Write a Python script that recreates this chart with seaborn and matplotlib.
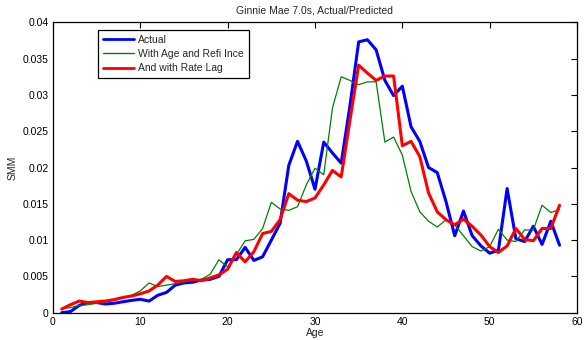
import numpy as np
import pandas as pd
import matplotlib
matplotlib.use("Agg")
import matplotlib.pyplot as plt
import seaborn as sns

age = list(range(1, 59))
actual = [0.0, 0.00015, 0.001, 0.0014, 0.0014, 0.0012, 0.0013, 0.0015, 0.0017, 0.00185,
          0.0016, 0.0024, 0.0028, 0.0038, 0.0041, 0.0042, 0.0045, 0.0046, 0.005, 0.0073,
          0.0073, 0.009, 0.0072, 0.0077, 0.01, 0.0123, 0.0203, 0.0236, 0.0209, 0.017,
          0.0235, 0.022, 0.0206, 0.0285, 0.0373, 0.0376, 0.0362, 0.032, 0.0299, 0.0312,
          0.0256, 0.0236, 0.02, 0.0193, 0.0153, 0.0106, 0.014, 0.0106, 0.0092, 0.0082,
          0.0086, 0.0171, 0.0102, 0.0098, 0.0119, 0.0094, 0.0126, 0.0093]
with_refi = [0.00055, 0.0007, 0.001, 0.0011, 0.0013, 0.0015, 0.0017, 0.002, 0.0024, 0.003,
             0.0041, 0.0036, 0.0038, 0.004, 0.0042, 0.0045, 0.0046, 0.0053, 0.0073, 0.0063,
             0.008, 0.0099, 0.0101, 0.0116, 0.0152, 0.0143, 0.0141, 0.0146, 0.0176, 0.0199,
             0.019, 0.0282, 0.0325, 0.032, 0.0314, 0.0318, 0.0318, 0.0235, 0.0242, 0.0217,
             0.0167, 0.0139, 0.0126, 0.0118, 0.0128, 0.0121, 0.0106, 0.0091, 0.0085, 0.0091,
             0.0115, 0.01, 0.0098, 0.0114, 0.0114, 0.0148, 0.0138, 0.0142]
rate_lag = [0.0005, 0.0011, 0.0016, 0.0014, 0.0015, 0.0016, 0.0018, 0.0021, 0.0023, 0.0026,
            0.003, 0.0038, 0.005, 0.0043, 0.0044, 0.0046, 0.0044, 0.0048, 0.0052, 0.006,
            0.0083, 0.007, 0.0084, 0.0109, 0.0112, 0.0128, 0.0164, 0.0155, 0.0153, 0.0158,
            0.0176, 0.0196, 0.0187, 0.0265, 0.0341, 0.033, 0.032, 0.0326, 0.0326, 0.023,
            0.0236, 0.0215, 0.0165, 0.0139, 0.0128, 0.0121, 0.0129, 0.0119, 0.0107, 0.0091,
            0.0083, 0.0092, 0.0116, 0.0101, 0.0099, 0.0116, 0.0116, 0.0148]

series_names = ["Actual", "With Age and Refi Ince", "And with Rate Lag"]
series_vals = [actual, with_refi, rate_lag]
colors = ["#0000ff", "#008000", "#ff0000"]
widths = [2.2, 0.9, 2.2]

sns.set_style("white")
plt.rcParams['font.family'] = ['Liberation Sans', 'DejaVu Sans']

fig = plt.figure(figsize=(5.84, 3.40), dpi=100)
ax = fig.add_axes([53/584, 1 - 312.7/340, 524/584, 290.4/340])

for name, vals, c, w in zip(series_names, series_vals, colors, widths):
    df = pd.DataFrame({"Age": age, "SMM": vals})
    sns.lineplot(data=df, x="Age", y="SMM", ax=ax, color=c, linewidth=w, label=name)

ax.set_xlim(0, 60)
ax.set_ylim(0, 0.04)
ax.set_xticks([0, 10, 20, 30, 40, 50, 60])
yt = [0, 0.005, 0.01, 0.015, 0.02, 0.025, 0.03, 0.035, 0.04]
ax.set_yticks(yt)
ax.set_yticklabels(["0", "0.005", "0.01", "0.015", "0.02", "0.025", "0.03", "0.035", "0.04"])
ax.tick_params(direction="in", length=4, width=0.8, labelsize=7.5, top=True, right=True,
               colors="black", pad=3)
for s in ax.spines.values():
    s.set_color("black")
    s.set_linewidth(0.9)
ax.set_xlabel("Age", fontsize=7.5, labelpad=1)
ax.set_ylabel("SMM", fontsize=7.5, labelpad=4)
ax.set_title("Ginnie Mae 7.0s, Actual/Predicted", fontsize=7.5, pad=6)

leg = ax.legend(loc="upper left", bbox_to_anchor=(0.086, 0.974), fontsize=7.5,
                frameon=True, fancybox=False, edgecolor="black", framealpha=1,
                borderpad=0.45, labelspacing=0.42, handlelength=3.0, handletextpad=0.4,
                borderaxespad=0)
leg.get_frame().set_linewidth(0.9)
for line, w in zip(leg.get_lines(), [2.0, 1.0, 2.0]):
    line.set_linewidth(w)

fig.savefig("out.png", dpi=100)
